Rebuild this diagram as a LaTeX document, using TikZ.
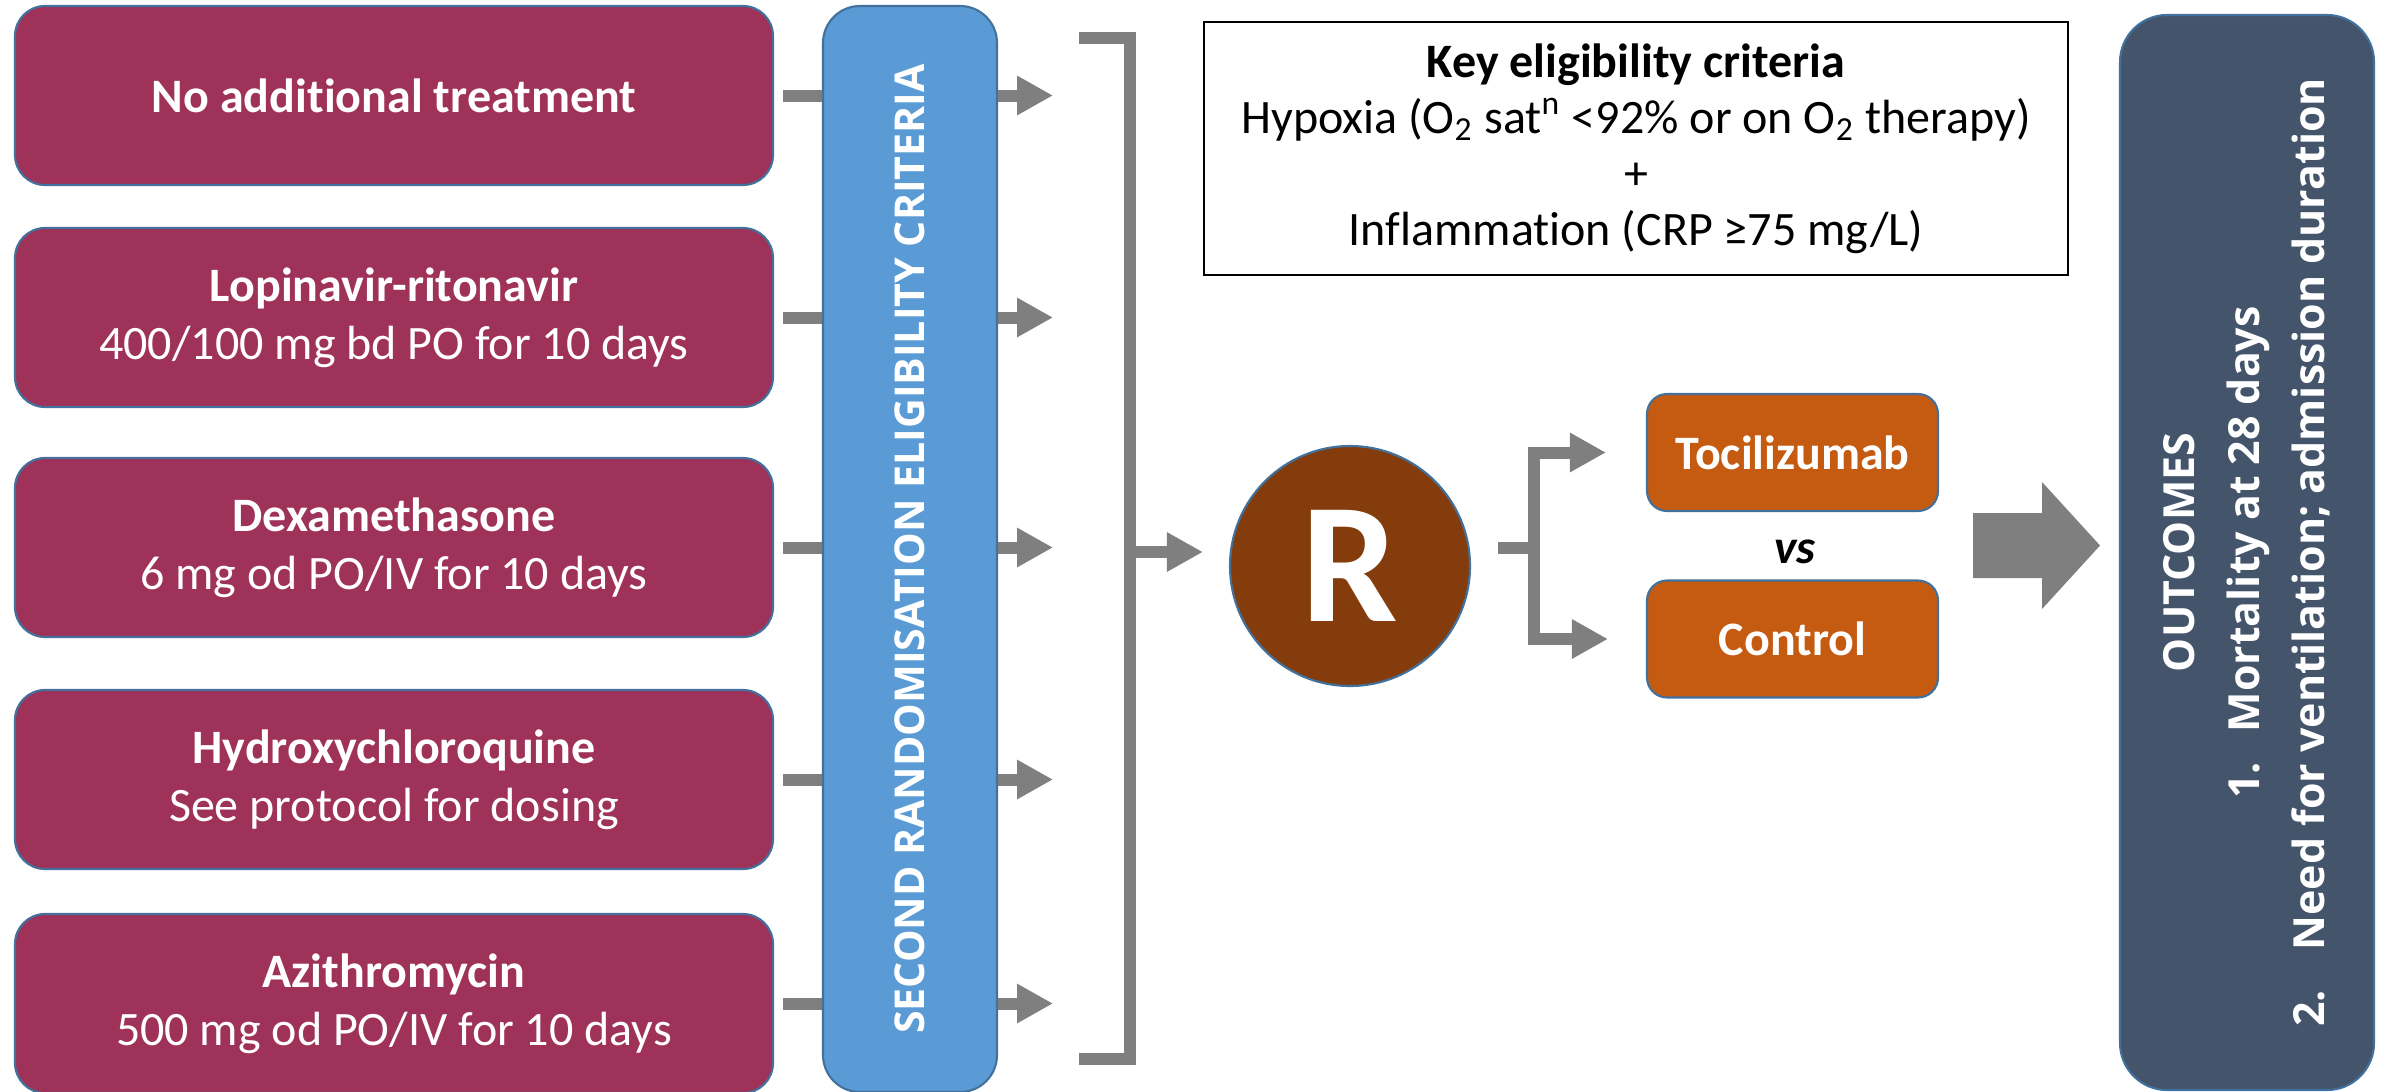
\documentclass[tikz,border=0pt]{standalone}
\usepackage{fontspec}
\setmainfont{Carlito}[Ligatures=NoCommon]
\newfontfamily\capsfont{Open Sans}
\usetikzlibrary{arrows.meta,positioning}
\definecolor{maroon}{RGB}{159,50,89}
\definecolor{edge}{RGB}{65,113,156}
\definecolor{barblue}{RGB}{91,155,213}
\definecolor{armorange}{RGB}{197,90,17}
\definecolor{rbrown}{RGB}{132,60,12}
\definecolor{slate}{RGB}{68,84,106}
\definecolor{arrgray}{RGB}{127,127,127}

\newcommand\boxfont{\fontsize{13.66pt}{16.5pt}\selectfont}
\newcommand\keyfont{\fontsize{13.66pt}{15.9pt}\selectfont}
\newcommand\bigRfont{\fontsize{48.8pt}{50pt}\selectfont\bfseries}
\newcommand\barfont{\capsfont\bfseries\fontsize{11.7pt}{14pt}\selectfont}
\newcommand\outfont{\capsfont\bfseries\fontsize{12.2pt}{18.5pt}\selectfont}

\begin{document}
\begin{tikzpicture}[
  x=1cm, y=-1cm,
  drug/.style={draw=edge, fill=maroon, rounded corners=0.3cm, line width=0.6pt,
               minimum width=7.58cm, minimum height=1.79cm, inner sep=0pt,
               text=white, align=center, font=\boxfont},
  arm/.style={draw=edge, fill=armorange, rounded corners=0.2cm, line width=0.6pt,
              minimum width=2.91cm, minimum height=1.17cm, inner sep=0pt,
              text=white, font=\boxfont\bfseries},
  gline/.style={draw=arrgray, line width=0.12cm},
  garrow/.style={gline, -{Triangle[length=0.36cm, width=0.37cm]}},
]

\useasboundingbox (0,0) rectangle (23.85,10.91);

% ---- first-line treatments ----
\node[drug] (d1) at (3.94,0.955)  {\textbf{No additional treatment}};
\node[drug] (d2) at (3.94,3.175)  {\textbf{Lopinavir-ritonavir}\\400/100 mg bd PO for 10 days};
\node[drug] (d3) at (3.94,5.475)  {\textbf{Dexamethasone}\\6 mg od PO/IV for 10 days};
\node[drug] (d4) at (3.94,7.795)  {\textbf{Hydroxychloroquine}\\See protocol for dosing};
\node[drug] (d5) at (3.94,10.035) {\textbf{Azithromycin}\\500 mg od PO/IV for 10 days};

% ---- eligibility bar ----
\node[draw=edge, fill=barblue, rounded corners=0.37cm, line width=0.6pt,
      minimum width=10.86cm, minimum height=1.74cm, inner sep=0pt,
      rotate=90, text=white, font=\barfont]
      (bar) at (9.10,5.49) {SECOND RANDOMISATION ELIGIBILITY CRITERIA};

\foreach \i in {1,...,5}{
  \draw[gline, shorten <=0.09cm] (d\i.east) -- (d\i.east -| bar.north);
  \path (d\i.east -| bar.south) ++(0.55,0) coordinate (t\i);
  \draw[garrow] (d\i.east -| bar.south) -- (t\i);
}

% ---- bracket ----
\coordinate (brtop) at (11.30,0.38);
\coordinate (brbot) at (11.30,10.59);
\coordinate (brmid) at (11.30,5.52);
\draw[gline] ([xshift=-0.51cm]brtop) -- (brtop) -- (brbot) -- ([xshift=-0.51cm]brbot);

% ---- key criteria ----
\node[draw=black, line width=0.7pt, minimum width=8.64cm, minimum height=2.53cm,
      align=center, font=\keyfont]
      (key) at (16.36,1.485)
      {\textbf{Key eligibility criteria}\\
       Hypoxia (O\textsubscript{2} sat\textsuperscript{n} <92\% or on O\textsubscript{2} therapy)\\
       +\\
       Inflammation (CRP ≥75 mg/L)};

% ---- randomisation ----
\node[circle, draw=edge, fill=rbrown, line width=0.6pt, minimum size=2.40cm,
      inner sep=0pt, text=white, font=\bigRfont] (R) at (13.50,5.66) {R};

\draw[garrow, shorten >=0.26cm] (brmid) -- (brmid -| R.west);

% ---- arms ----
\node[arm] (toc) at (17.925,4.525) {Tocilizumab};
\node[arm] (ctl) at (17.925,6.39)  {Control};
\node[font=\boxfont\bfseries\itshape] (vs) at (17.95,5.52) {vs};

\coordinate (fork) at (15.34,5.48);
\draw[gline, shorten <=0.27cm] (fork -| R.east) -- (fork);
\draw[garrow, shorten >=0.40cm] (fork) |- (toc.west);
\draw[garrow, shorten >=0.38cm] (fork) |- (ctl.west);

% ---- outcomes ----
\fill[arrgray] (19.73,5.13) -- (20.42,5.13) -- (20.42,4.82) -- (21.00,5.455)
      -- (20.42,6.09) -- (20.42,5.78) -- (19.73,5.78) -- cycle;

\node[draw=edge, fill=slate, rounded corners=0.47cm, line width=0.6pt,
      minimum width=10.75cm, minimum height=2.54cm, inner sep=0pt,
      rotate=90, align=center, text=white, font=\outfont]
      (out) at (22.47,5.525)
      {OUTCOMES\\
       1.\hspace{0.3cm}Mortality at 28 days\\
       2.\hspace{0.4cm}Need for ventilation; admission duration};

\end{tikzpicture}
\end{document}
